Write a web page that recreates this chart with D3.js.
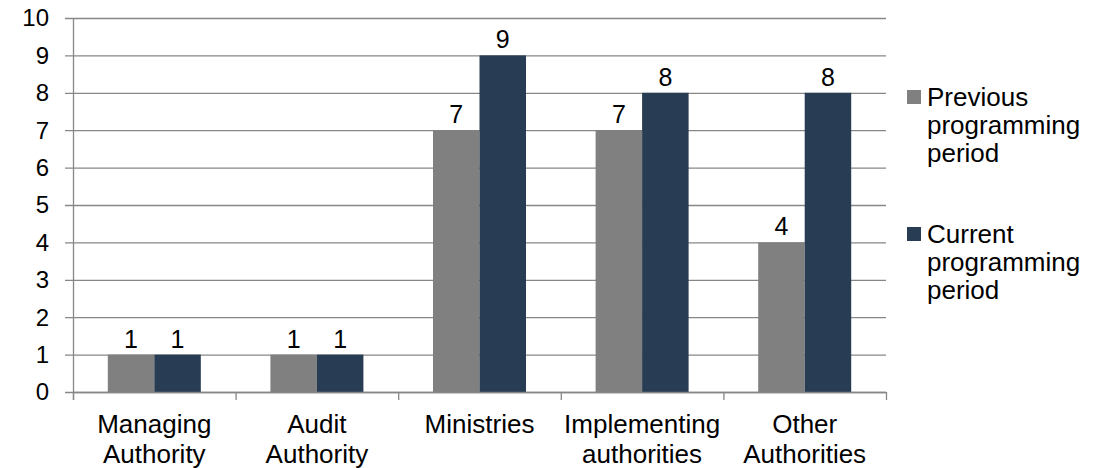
<!DOCTYPE html>
<html>
<head>
<meta charset="utf-8">
<script src="https://cdn.jsdelivr.net/npm/d3@7"></script>
<style>
  body { margin: 0; background: #fff; }
  text { font-family: "Liberation Sans", Arial, sans-serif; fill: #000; }
</style>
</head>
<body>
<div id="chart"></div>
<script>
// categories, each label split on two lines
const categories = [
  ["Managing", "Authority"],
  ["Audit", "Authority"],
  ["Ministries"],
  ["Implementing", "authorities"],
  ["Other", "Authorities"]
];
const seriesNames = [
  ["Previous", "programming", "period"],
  ["Current", "programming", "period"]
];
const previousValues = [1, 1, 7, 7, 4];
const currentValues  = [1, 1, 9, 8, 8];
const yTicks = [0, 1, 2, 3, 4, 5, 6, 7, 8, 9, 10];

const colors = ["#808080", "#283c53"];
const gridColor = "#878787";

let width = 1105, height = 468;
let margin = {top: 18, right: 219, bottom: 76, left: 73};
let fsTick = 24, fsCat = 26, fsLab = 25, fsLeg = 26;

let svg = d3.select("#chart").append("svg")
  .attr("width", width).attr("height", height);

let g = svg.append("g").attr("transform", `translate(${margin.left},${margin.top})`);
let iw = width - margin.left - margin.right,
    ih = height - margin.top - margin.bottom;

let x0 = d3.scaleBand().domain(d3.range(categories.length)).range([0, iw]).paddingInner(0).paddingOuter(0);
let x1 = d3.scaleBand().domain([0, 1]).range([x0.bandwidth() * 0.214, x0.bandwidth() * 0.786]);
let y = d3.scaleLinear().domain([0, 10]).range([ih, 0]);

// gridlines
g.selectAll(".grid").data(yTicks).enter().append("line")
  .attr("x1", -8).attr("x2", iw)
  .attr("y1", d => y(d) + 0.5).attr("y2", d => y(d) + 0.5)
  .attr("stroke", gridColor).attr("stroke-width", 1.3);

// y labels
g.selectAll(".ylab").data(yTicks).enter().append("text")
  .attr("x", -24).attr("y", d => y(d))
  .attr("dy", "0.35em")
  .attr("text-anchor", "end")
  .style("font-size", fsTick + "px")
  .text(d => d);

// bars
let rows = categories.map((c, i) => [previousValues[i], currentValues[i]]);
let grp = g.selectAll(".grp").data(rows).enter().append("g")
  .attr("transform", (d, i) => `translate(${x0(i)},0)`);
grp.selectAll("rect").data(d => d).enter().append("rect")
  .attr("x", (d, j) => x1(j))
  .attr("width", x1.bandwidth())
  .attr("y", d => y(d))
  .attr("height", d => ih - y(d))
  .attr("fill", (d, j) => colors[j]);
grp.selectAll(".lab").data(d => d).enter().append("text")
  .attr("x", (d, j) => x1(j) + x1.bandwidth() / 2)
  .attr("y", d => y(d) - 7)
  .attr("text-anchor", "middle")
  .style("font-size", fsLab + "px")
  .text(d => d);

// y axis line and x axis with ticks
g.append("line").attr("x1", 0.5).attr("x2", 0.5).attr("y1", 0).attr("y2", ih + 8)
  .attr("stroke", gridColor).attr("stroke-width", 1.3);
g.append("line").attr("x1", 0).attr("x2", iw).attr("y1", ih + 0.5).attr("y2", ih + 0.5)
  .attr("stroke", gridColor).attr("stroke-width", 1.3);
g.selectAll(".xt").data(d3.range(categories.length + 1)).enter().append("line")
  .attr("x1", d => d * x0.bandwidth() + 0.5).attr("x2", d => d * x0.bandwidth() + 0.5)
  .attr("y1", ih).attr("y2", ih + 8)
  .attr("stroke", gridColor).attr("stroke-width", 1.3);

// category labels
let cl = g.selectAll(".cat").data(categories).enter().append("text")
  .attr("text-anchor", "middle")
  .style("font-size", fsCat + "px")
  .attr("transform", (d, i) => `translate(${x0(i) + x0.bandwidth() / 2},${ih + 41})`);
cl.selectAll("tspan").data(d => d).enter().append("tspan")
  .attr("x", 0).attr("y", (d, k) => k * 30)
  .text(d => d);

// legend
let leg = svg.append("g").attr("transform", "translate(907,0)");
let items = leg.selectAll(".li").data(seriesNames).enter().append("g")
  .attr("transform", (d, i) => `translate(0,${90 + i * 137})`);
items.append("rect").attr("width", 14).attr("height", 14).attr("fill", (d, i) => colors[i]);
let lt = items.append("text").style("font-size", fsLeg + "px");
lt.selectAll("tspan").data(d => d).enter().append("tspan")
  .attr("x", 20).attr("y", (d, k) => 16 + k * 28)
  .text(d => d);
</script>
</body>
</html>
